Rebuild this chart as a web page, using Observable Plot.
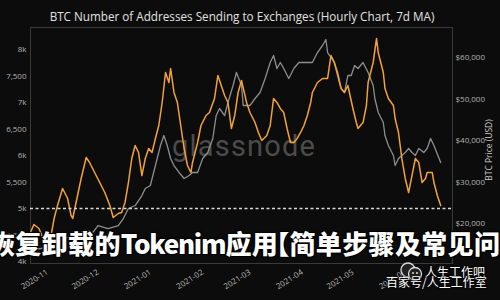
<!DOCTYPE html>
<html><head><meta charset="utf-8">
<script src="https://cdn.jsdelivr.net/npm/d3@7"></script>
<script src="https://cdn.jsdelivr.net/npm/@observablehq/plot@0.6"></script>
<style>
body{margin:0;background:#0c0c0c;}
#wrap{position:relative;width:500px;height:300px;overflow:hidden;background:#0c0c0c;font-family:"Open Sans",sans-serif;}
#wrap svg{position:absolute;left:0;top:0;z-index:1;}
.ov{position:absolute;white-space:nowrap;}
#title{left:0;width:484px;top:8px;text-align:center;color:#e2e2e2;font-size:11.7px;z-index:2;}
#glass{left:172px;top:129px;color:#4b4b4b;font-size:29px;letter-spacing:1.2px;font-family:Roboto,sans-serif;z-index:0;}
#ylab2{left:488px;top:150px;color:#cfcfcf;font-size:8.5px;transform:translate(-50%,-50%) rotate(-90deg);z-index:2;}
#big{left:-11px;top:224px;color:#fff;font-size:26px;font-weight:900;letter-spacing:0.35px;font-family:"Noto Sans CJK SC",sans-serif;z-index:3;
 text-shadow:-1px -1px 0 #000,1px -1px 0 #000,-1px 1px 0 #000,1px 1px 0 #000,0 0 3px #000;}
#big .lat{letter-spacing:-1.2px;}
#big .br{margin-left:-15px;}
.wm{color:#fff;font-size:12px;font-family:"Noto Sans CJK SC",sans-serif;z-index:4;text-shadow:0 0 2px #000,0 0 2px #000;}
#wm1{left:425px;top:263px;}
#wm2{left:386px;top:273px;}
#icon{left:399px;top:262px;z-index:4;}
</style></head>
<body><div id="wrap"></div>
<script>
const titleText = "BTC Number of Addresses Sending to Exchanges (Hourly Chart, 7d MA)";
const rightAxisLabel = "BTC Price (USD)";
const overlayText = "恢复卸载的Tokenim应用【简单步骤及常见问题";
const watermark1 = "人生工作吧";
const watermark2 = "百家号/人生工作室";
const brandText = "glassnode";

const addrDates = ["2020-10-22","2020-10-24","2020-10-27","2020-10-30","2020-11-02","2020-11-05","2020-11-07","2020-11-10","2020-11-13","2020-11-15","2020-11-16","2020-11-18","2020-11-21","2020-11-24","2020-11-26","2020-11-29","2020-12-02","2020-12-05","2020-12-08","2020-12-10","2020-12-13","2020-12-15","2020-12-17","2020-12-19","2020-12-21","2020-12-23","2020-12-25","2020-12-27","2020-12-29","2020-12-31","2021-01-02","2021-01-04","2021-01-06","2021-01-08","2021-01-10","2021-01-12","2021-01-13","2021-01-15","2021-01-17","2021-01-19","2021-01-21","2021-01-23","2021-01-25","2021-01-26","2021-01-29","2021-01-31","2021-02-03","2021-02-05","2021-02-08","2021-02-10","2021-02-12","2021-02-14","2021-02-16","2021-02-18","2021-02-20","2021-02-22","2021-02-24","2021-02-27","2021-03-01","2021-03-04","2021-03-06","2021-03-08","2021-03-11","2021-03-13","2021-03-15","2021-03-17","2021-03-19","2021-03-21","2021-03-23","2021-03-25","2021-03-27","2021-03-29","2021-03-31","2021-04-02","2021-04-04","2021-04-06","2021-04-07","2021-04-10","2021-04-13","2021-04-16","2021-04-18","2021-04-20","2021-04-22","2021-04-24","2021-04-26","2021-04-28","2021-05-01","2021-05-03","2021-05-04","2021-05-07","2021-05-09","2021-05-10","2021-05-13","2021-05-15","2021-05-16","2021-05-19","2021-05-20","2021-05-22","2021-05-25","2021-05-26","2021-05-28","2021-05-30","2021-06-01","2021-06-03","2021-06-05","2021-06-07","2021-06-09","2021-06-11","2021-06-13","2021-06-14","2021-06-17","2021-06-18","2021-06-20","2021-06-22"];
const addrValues = [4547,4698,4622,4396,4283,4811,5056,5377,5188,4868,4811,5113,5566,5962,5868,5679,5490,5302,5056,4830,4905,4924,5113,5490,5943,6188,6056,5622,5943,6132,6056,6321,6566,7000,7566,7377,7641,7189,7000,6566,6132,5811,5679,5868,6245,6566,6755,6811,7075,7509,7321,7132,7000,6509,6755,7189,7415,7000,6811,6622,6434,6283,6377,6566,7075,7000,6887,6811,6509,6245,6245,6321,6434,6566,6755,7000,7189,7377,7453,7453,7887,7755,7509,7264,7189,7321,6887,6622,6509,6622,6943,7377,7755,8208,7943,7566,7264,7075,6943,6698,6434,5943,5566,5302,5622,5943,5868,5490,5566,5679,5679,5490,5245,5056];

const priceDates = ["2020-10-22","2020-10-28","2020-11-03","2020-11-09","2020-11-15","2020-11-21","2020-11-25","2020-11-28","2020-12-01","2020-12-07","2020-12-13","2020-12-16","2020-12-19","2020-12-23","2020-12-27","2020-12-29","2021-01-01","2021-01-04","2021-01-07","2021-01-09","2021-01-11","2021-01-13","2021-01-15","2021-01-18","2021-01-21","2021-01-24","2021-01-26","2021-01-29","2021-02-01","2021-02-04","2021-02-07","2021-02-09","2021-02-11","2021-02-14","2021-02-16","2021-02-19","2021-02-21","2021-02-24","2021-02-25","2021-03-01","2021-03-04","2021-03-07","2021-03-10","2021-03-13","2021-03-15","2021-03-17","2021-03-19","2021-03-21","2021-03-24","2021-03-27","2021-03-30","2021-04-02","2021-04-05","2021-04-07","2021-04-10","2021-04-13","2021-04-15","2021-04-16","2021-04-20","2021-04-22","2021-04-24","2021-04-26","2021-04-28","2021-04-30","2021-05-02","2021-05-04","2021-05-07","2021-05-10","2021-05-13","2021-05-14","2021-05-16","2021-05-19","2021-05-20","2021-05-22","2021-05-25","2021-05-26","2021-05-28","2021-05-30","2021-06-01","2021-06-03","2021-06-05","2021-06-07","2021-06-09","2021-06-12","2021-06-14","2021-06-16","2021-06-18","2021-06-22"];
const priceValues = [13500,13970,14690,15900,16860,17830,18310,17830,19510,18790,19510,21200,23610,24330,26740,28430,29150,33970,38790,41200,38790,35660,33970,32290,30840,31560,32290,32290,35660,37110,40480,46020,47710,46020,49160,53250,56390,53250,48430,48430,50120,51560,54940,58800,60480,57350,58800,57350,54940,57350,58800,58800,58800,58800,61200,62890,64340,61200,58800,56390,52530,51560,55660,55660,58070,57350,58800,56390,53250,50120,46740,44330,41200,38790,36380,33970,35660,36380,37110,38070,37110,36380,38070,37110,38070,40480,38790,34690];

const leftTicks = [4000,4500,5000,5500,6000,6500,7000,7500,8000];
const rightTicks = [20000,30000,40000,50000,60000];
const monthTicks = ["2020-11-01","2020-12-01","2021-01-01","2021-02-01","2021-03-01","2021-04-01","2021-05-01","2021-06-01"];
const thresholdValue = [5000];
const xRange = ["2020-10-22","2021-06-29"];
const yRange = [3962, 8415];

// price axis (right) expressed on the address scale (left)
const priceToLeft = p => 3151 + 0.0783 * p;
const leftToPrice = v => (v - 3151) / 0.0783;

const addr = addrDates.map((d, i) => ({date: new Date(d), value: addrValues[i]}));
const price = priceDates.map((d, i) => ({date: new Date(d), value: priceValues[i]}));
const fmtLeft = d => d % 1000 === 0 ? (d / 1000) + "k" : d3.format(",")(d);
const fmtRight = v => "$" + d3.format(",")(Math.round(leftToPrice(v) / 1000) * 1000);

const chart = Plot.plot({
  width: 500, height: 300,
  marginTop: 27, marginBottom: 37, marginLeft: 30, marginRight: 48,
  style: {background: "transparent", color: "#b5b5b5", fontFamily: "Open Sans, sans-serif", fontSize: "8px"},
  x: {type: "utc", domain: xRange.map(d => new Date(d))},
  y: {domain: yRange},
  marks: [
    Plot.frame({stroke: "#3a3a3a", strokeWidth: 1}),
    Plot.axisY(leftTicks, {anchor: "left", tickSize: 0, tickPadding: 4, tickFormat: fmtLeft, label: null, fill: "#b5b5b5"}),
    Plot.axisY(rightTicks.map(priceToLeft), {anchor: "right", tickSize: 0, tickPadding: 3, tickFormat: fmtRight, label: null, fill: "#b5b5b5", textAnchor: "start"}),
    Plot.axisX(monthTicks.map(d => new Date(d)), {anchor: "bottom", tickSize: 0, tickPadding: 8, tickRotate: -32, tickFormat: d3.utcFormat("%Y-%m"), label: null, fill: "#b5b5b5"}),
    Plot.line(price, {x: "date", y: d => priceToLeft(d.value), stroke: "#8e8e8e", strokeWidth: 1.3, curve: "linear"}),
    Plot.line(addr, {x: "date", y: "value", stroke: "#f3a236", strokeWidth: 1.5, curve: "linear"}),
    Plot.ruleY(thresholdValue, {stroke: "#d8d8d8", strokeWidth: 1.4, strokeDasharray: "3,2.5"})
  ]
});

const wrap = document.getElementById("wrap");
wrap.appendChild(chart);
const add = (id, cls, txt) => { const e = document.createElement("div"); e.id = id; e.className = "ov " + cls; e.textContent = txt; wrap.appendChild(e); return e; };
add("title", "", titleText);
add("glass", "", brandText);
add("ylab2", "", rightAxisLabel);
// big overlay text: Latin run and the bracket get their own spans for spacing
const big = add("big", "", "");
overlayText.split(/([A-Za-z]+|【)/).filter(s => s).forEach(s => {
  const sp = document.createElement("span");
  sp.textContent = s;
  if (/^[A-Za-z]+$/.test(s)) sp.className = "lat";
  else if (s === "【") sp.className = "br";
  big.appendChild(sp);
});
const icon = document.createElement("div");
icon.id = "icon"; icon.className = "ov";
icon.innerHTML = '<svg width="26" height="20"><circle cx="9" cy="8" r="7" fill="#222" stroke="#ddd" stroke-width="1.3"/><circle cx="16" cy="12" r="6.5" fill="#222" stroke="#ddd" stroke-width="1.3"/><circle cx="14" cy="11" r="1" fill="#ddd"/><circle cx="18" cy="11" r="1" fill="#ddd"/></svg>';
wrap.appendChild(icon);
add("wm1", "wm", watermark1);
add("wm2", "wm", watermark2);
</script>
</body></html>
